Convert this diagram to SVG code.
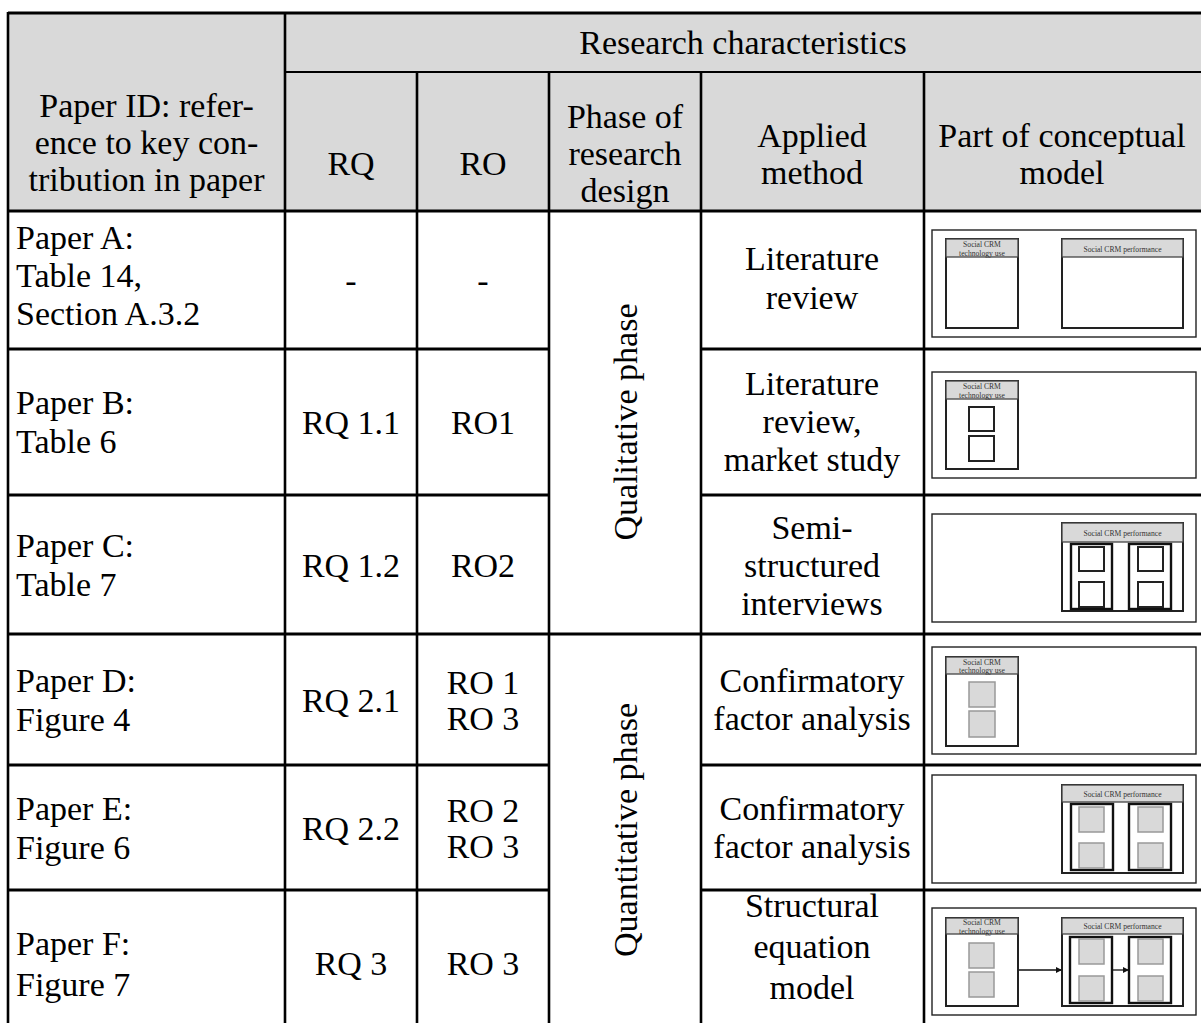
<svg xmlns="http://www.w3.org/2000/svg" width="1201" height="1023" viewBox="0 0 1201 1023">
<defs>
<style>
text{font-family:"Liberation Serif","Times New Roman",serif;font-size:34px;fill:#000}
.c{text-anchor:middle}
.hd{fill:#d9d9d9}
.tl{stroke:#000;stroke-width:3;fill:none}
.vl{stroke:#000;stroke-width:2.6;fill:none}
.ob{fill:#fff;stroke:#222;stroke-width:1.4}
.bx{fill:#fff;stroke:#222;stroke-width:2}
.bh{fill:#d9d9d9;stroke:#444;stroke-width:1.3}
.sb{fill:#fff;stroke:#111;stroke-width:2.4}
.sw{fill:#fff;stroke:#222;stroke-width:2}
.sg{fill:#d9d9d9;stroke:#999;stroke-width:1.5}
.tt{font-size:7.6px;fill:#333;text-anchor:middle}
.ar{stroke:#111;stroke-width:1.3;fill:none}
</style>
<marker id="ah" markerWidth="6" markerHeight="6" refX="5" refY="3" orient="auto" markerUnits="userSpaceOnUse"><path d="M0,0 L6,3 L0,6 z" fill="#111"/></marker>
</defs>
<rect x="0" y="0" width="1201" height="1023" fill="#fff"/>
<g id="header">
<rect class="hd" x="8" y="13" width="1193" height="198"/>
<text class="c" x="146.5" y="117">Paper ID: refer-</text>
<text class="c" x="146.5" y="154">ence to key con-</text>
<text class="c" x="146.5" y="191">tribution in paper</text>
<text class="c" x="743" y="54">Research characteristics</text>
<text class="c" x="351" y="175">RQ</text>
<text class="c" x="483" y="175">RO</text>
<text class="c" x="625" y="128">Phase of</text>
<text class="c" x="625" y="165">research</text>
<text class="c" x="625" y="202">design</text>
<text class="c" x="812" y="147">Applied</text>
<text class="c" x="812" y="184">method</text>
<text class="c" x="1062" y="147">Part of conceptual</text>
<text class="c" x="1062" y="184">model</text>
</g>
<g id="row-a">
<text x="16" y="249">Paper A:</text>
<text x="16" y="287">Table 14,</text>
<text x="16" y="325">Section A.3.2</text>
<text class="c" x="351" y="292">-</text>
<text class="c" x="483" y="292">-</text>
<text class="c" x="812" y="270">Literature</text>
<text class="c" x="812" y="309">review</text>
</g>
<g id="row-b">
<text x="16" y="414">Paper B:</text>
<text x="16" y="453">Table 6</text>
<text class="c" x="351" y="434">RQ 1.1</text>
<text class="c" x="483" y="434">RO1</text>
<text class="c" x="812" y="395">Literature</text>
<text class="c" x="812" y="433">review,</text>
<text class="c" x="812" y="471">market study</text>
</g>
<g id="row-c">
<text x="16" y="557">Paper C:</text>
<text x="16" y="596">Table 7</text>
<text class="c" x="351" y="577">RQ 1.2</text>
<text class="c" x="483" y="577">RO2</text>
<text class="c" x="812" y="539">Semi-</text>
<text class="c" x="812" y="577">structured</text>
<text class="c" x="812" y="615">interviews</text>
</g>
<g id="row-d">
<text x="16" y="692">Paper D:</text>
<text x="16" y="731">Figure 4</text>
<text class="c" x="351" y="712">RQ 2.1</text>
<text class="c" x="483" y="694">RO 1</text>
<text class="c" x="483" y="730">RO 3</text>
<text class="c" x="812" y="692">Confirmatory</text>
<text class="c" x="812" y="730">factor analysis</text>
</g>
<g id="row-e">
<text x="16" y="820">Paper E:</text>
<text x="16" y="859">Figure 6</text>
<text class="c" x="351" y="840">RQ 2.2</text>
<text class="c" x="483" y="822">RO 2</text>
<text class="c" x="483" y="858">RO 3</text>
<text class="c" x="812" y="820">Confirmatory</text>
<text class="c" x="812" y="858">factor analysis</text>
</g>
<g id="row-f">
<text x="16" y="955">Paper F:</text>
<text x="16" y="996">Figure 7</text>
<text class="c" x="351" y="975">RQ 3</text>
<text class="c" x="483" y="975">RO 3</text>
<text class="c" x="812" y="917">Structural</text>
<text class="c" x="812" y="958">equation</text>
<text class="c" x="812" y="999">model</text>
</g>
<g id="phases">
<text class="c" transform="translate(637,422) rotate(-90)">Qualitative phase</text>
<text class="c" transform="translate(637,830) rotate(-90)">Quantitative phase</text>
</g>
<g id="grid">
<line class="tl" x1="8" y1="13" x2="1201" y2="13"/>
<line class="vl" x1="8" y1="12" x2="8" y2="1023"/>
<line class="vl" x1="285" y1="72" x2="1201" y2="72" style="stroke-width:2"/>
<line class="tl" x1="8" y1="211" x2="1201" y2="211"/>
<line class="tl" x1="8" y1="349" x2="549" y2="349"/>
<line class="tl" x1="701" y1="349" x2="1201" y2="349"/>
<line class="tl" x1="8" y1="495" x2="549" y2="495"/>
<line class="tl" x1="701" y1="495" x2="1201" y2="495"/>
<line class="tl" x1="8" y1="634" x2="1201" y2="634"/>
<line class="tl" x1="8" y1="765" x2="549" y2="765"/>
<line class="tl" x1="701" y1="765" x2="1201" y2="765"/>
<line class="tl" x1="8" y1="890" x2="549" y2="890"/>
<line class="tl" x1="701" y1="890" x2="1201" y2="890"/>
<line class="vl" x1="285" y1="13" x2="285" y2="1023"/>
<line class="vl" x1="417" y1="72" x2="417" y2="1023"/>
<line class="vl" x1="549" y1="72" x2="549" y2="1023"/>
<line class="vl" x1="701" y1="72" x2="701" y2="1023"/>
<line class="vl" x1="924" y1="72" x2="924" y2="1023"/>
</g>
<g id="model-a">
<rect class="ob" x="932" y="230" width="264" height="107"/>
<rect class="bx" x="946" y="239" width="72" height="89"/>
<rect class="bh" x="946" y="239" width="72" height="18"/>
<text class="tt" x="982" y="246.5">Social CRM</text>
<text class="tt" x="982" y="255.5">technology use</text>
<rect class="bx" x="1062" y="239" width="121" height="89"/>
<rect class="bh" x="1062" y="239" width="121" height="18"/>
<text class="tt" x="1122.5" y="251.5">Social CRM performance</text>
</g>
<g id="model-b">
<rect class="ob" x="932" y="372" width="264" height="106"/>
<rect class="bx" x="946" y="381" width="72" height="88"/>
<rect class="bh" x="946" y="381" width="72" height="18"/>
<text class="tt" x="982" y="388.5">Social CRM</text>
<text class="tt" x="982" y="397.5">technology use</text>
<rect class="sw" x="969" y="407" width="25" height="24"/>
<rect class="sw" x="969" y="436" width="25" height="25"/>
</g>
<g id="model-c">
<rect class="ob" x="932" y="514" width="264" height="108"/>
<rect class="bx" x="1062" y="523" width="121" height="88"/>
<rect class="bh" x="1062" y="523" width="121" height="19"/>
<text class="tt" x="1122.5" y="535.5">Social CRM performance</text>
<rect class="sb" x="1071" y="544" width="41" height="65"/>
<rect class="sb" x="1129" y="544" width="42" height="65"/>
<rect class="sw" x="1079" y="547" width="25" height="24"/>
<rect class="sw" x="1079" y="582" width="25" height="25"/>
<rect class="sw" x="1138" y="547" width="25" height="24"/>
<rect class="sw" x="1138" y="582" width="25" height="25"/>
</g>
<g id="model-d">
<rect class="ob" x="932" y="647" width="264" height="107"/>
<rect class="bx" x="946" y="657" width="72" height="89"/>
<rect class="bh" x="946" y="657" width="72" height="17"/>
<text class="tt" x="982" y="664.5">Social CRM</text>
<text class="tt" x="982" y="673">technology use</text>
<rect class="sg" x="969" y="682" width="26" height="25"/>
<rect class="sg" x="969" y="711" width="26" height="26"/>
</g>
<g id="model-e">
<rect class="ob" x="932" y="775" width="264" height="108"/>
<rect class="bx" x="1062" y="785" width="121" height="88"/>
<rect class="bh" x="1062" y="785" width="121" height="17"/>
<text class="tt" x="1122.5" y="796.5">Social CRM performance</text>
<rect class="sb" x="1071" y="804" width="42" height="66"/>
<rect class="sb" x="1129" y="804" width="42" height="66"/>
<rect class="sg" x="1079" y="807" width="25" height="25"/>
<rect class="sg" x="1079" y="843" width="25" height="25"/>
<rect class="sg" x="1138" y="807" width="25" height="25"/>
<rect class="sg" x="1138" y="843" width="25" height="25"/>
</g>
<g id="model-f">
<rect class="ob" x="932" y="908" width="264" height="107"/>
<rect class="bx" x="946" y="918" width="72" height="88"/>
<rect class="bh" x="946" y="918" width="72" height="16"/>
<text class="tt" x="982" y="925">Social CRM</text>
<text class="tt" x="982" y="933.5">technology use</text>
<rect class="sg" x="969" y="943" width="25" height="25"/>
<rect class="sg" x="969" y="972" width="25" height="25"/>
<rect class="bx" x="1062" y="918" width="121" height="88"/>
<rect class="bh" x="1062" y="918" width="121" height="16"/>
<text class="tt" x="1122.5" y="929">Social CRM performance</text>
<rect class="sb" x="1070" y="937" width="42" height="66"/>
<rect class="sb" x="1129" y="937" width="42" height="66"/>
<rect class="sg" x="1079" y="939" width="25" height="25"/>
<rect class="sg" x="1079" y="976" width="25" height="25"/>
<rect class="sg" x="1138" y="939" width="25" height="25"/>
<rect class="sg" x="1138" y="976" width="25" height="25"/>
</g>
<g id="connectors">
<line class="ar" x1="1019" y1="970" x2="1061" y2="970" marker-end="url(#ah)"/>
<line class="ar" x1="1113" y1="970" x2="1128" y2="970" marker-end="url(#ah)"/>
</g>
</svg>
